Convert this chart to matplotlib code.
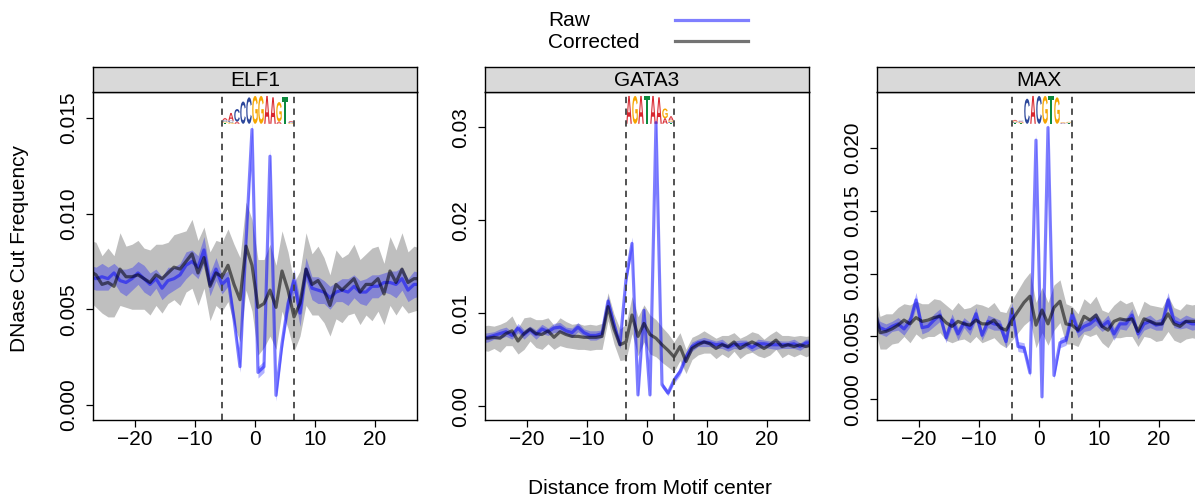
import numpy as np
import matplotlib.pyplot as plt
from matplotlib.textpath import TextPath
from matplotlib.font_manager import FontProperties
from matplotlib.patches import PathPatch
from matplotlib.transforms import Affine2D, blended_transform_factory
from matplotlib.lines import Line2D

plt.rcParams['font.family'] = ['Liberation Sans', 'DejaVu Sans']

# positions around the motif center
positions = np.arange(-27.5, 28.0, 1.0)

elf1_raw = [0.0067, 0.0066, 0.0067, 0.0066, 0.0069, 0.0065, 0.0064, 0.0066, 0.0069, 0.0066,
            0.0063, 0.0066, 0.0061, 0.0065, 0.0066, 0.0068, 0.0073, 0.0075, 0.0072, 0.0081,
            0.0063, 0.0071, 0.0063, 0.0066, 0.0045, 0.0020, 0.0085, 0.0144,
            0.0017, 0.0020, 0.0130, 0.0005, 0.0032, 0.0053, 0.0065, 0.0048, 0.0071, 0.0061,
            0.0060, 0.0059, 0.0056, 0.0059, 0.0060, 0.0059, 0.0062, 0.0059, 0.0059, 0.0062,
            0.0062, 0.0064, 0.0064, 0.0063, 0.0066, 0.0060, 0.0063, 0.0063]
elf1_raw_sd = [0.0006, 0.0006, 0.0007, 0.0006, 0.0005, 0.0006, 0.0007, 0.0006, 0.0006, 0.0007,
               0.0006, 0.0005, 0.0006, 0.0007, 0.0006, 0.0006, 0.0007, 0.0006, 0.0006, 0.0007,
               0.0006, 0.0006, 0.0005, 0.0004, 0.0003, 0.0003, 0.0003, 0.0004,
               0.0003, 0.0003, 0.0004, 0.0003, 0.0004, 0.0005, 0.0006, 0.0007, 0.0006, 0.0006,
               0.0007, 0.0006, 0.0006, 0.0005, 0.0006, 0.0007, 0.0006, 0.0006, 0.0007, 0.0006,
               0.0006, 0.0005, 0.0006, 0.0007, 0.0006, 0.0006, 0.0007, 0.0006]
elf1_cor = [0.0070, 0.0068, 0.0063, 0.0064, 0.0062, 0.0071, 0.0067, 0.0067, 0.0068, 0.0066,
            0.0064, 0.0068, 0.0066, 0.0069, 0.0072, 0.0071, 0.0075, 0.0079, 0.0069, 0.0077,
            0.0062, 0.0069, 0.0067, 0.0073, 0.0063, 0.0055, 0.0083, 0.0073,
            0.0051, 0.0053, 0.0060, 0.0051, 0.0070, 0.0060, 0.0046, 0.0053, 0.0071, 0.0063,
            0.0065, 0.0060, 0.0052, 0.0063, 0.0060, 0.0063, 0.0066, 0.0059, 0.0063, 0.0063,
            0.0066, 0.0058, 0.0070, 0.0064, 0.0071, 0.0064, 0.0066, 0.0066]
elf1_cor_sd = [0.0016, 0.0017, 0.0015, 0.0018, 0.0016, 0.0019, 0.0016, 0.0017, 0.0018, 0.0016,
               0.0017, 0.0016, 0.0018, 0.0016, 0.0017, 0.0019, 0.0016, 0.0018, 0.0017, 0.0016,
               0.0018, 0.0017, 0.0018, 0.0019, 0.0021, 0.0022, 0.0023, 0.0024,
               0.0025, 0.0023, 0.0024, 0.0022, 0.0021, 0.0020, 0.0018, 0.0017, 0.0019, 0.0016,
               0.0018, 0.0017, 0.0016, 0.0018, 0.0017, 0.0016, 0.0018, 0.0017, 0.0016, 0.0019,
               0.0017, 0.0016, 0.0018, 0.0017, 0.0019, 0.0016, 0.0017, 0.0016]

gata3_raw = [0.0073, 0.0074, 0.0076, 0.0078, 0.0080, 0.0076, 0.0084, 0.0077, 0.0082, 0.0077,
             0.0083, 0.0080, 0.0084, 0.0085, 0.0081, 0.0079, 0.0085, 0.0079, 0.0076, 0.0076,
             0.0078, 0.0113, 0.0088, 0.0066, 0.0136, 0.0175, 0.0012, 0.0103,
             0.0012, 0.0305, 0.0023, 0.0014, 0.0028, 0.0037, 0.0053, 0.0064, 0.0068, 0.0069,
             0.0068, 0.0066, 0.0067, 0.0063, 0.0066, 0.0066, 0.0067, 0.0063, 0.0067, 0.0067,
             0.0066, 0.0066, 0.0066, 0.0066, 0.0067, 0.0064, 0.0068, 0.0068]
gata3_raw_sd = [0.0005, 0.0005, 0.0004, 0.0005, 0.0005, 0.0004, 0.0005, 0.0005, 0.0004, 0.0005,
                0.0005, 0.0004, 0.0005, 0.0005, 0.0004, 0.0005, 0.0005, 0.0004, 0.0005, 0.0005,
                0.0004, 0.0006, 0.0005, 0.0004, 0.0006, 0.0007, 0.0003, 0.0005,
                0.0003, 0.0008, 0.0003, 0.0003, 0.0004, 0.0004, 0.0005, 0.0005, 0.0004, 0.0005,
                0.0004, 0.0004, 0.0005, 0.0004, 0.0004, 0.0005, 0.0004, 0.0004, 0.0005, 0.0004,
                0.0004, 0.0005, 0.0004, 0.0004, 0.0005, 0.0004, 0.0004, 0.0004]
gata3_cor = [0.0073, 0.0073, 0.0074, 0.0073, 0.0078, 0.0081, 0.0070, 0.0078, 0.0083, 0.0078,
             0.0077, 0.0081, 0.0074, 0.0080, 0.0077, 0.0075, 0.0075, 0.0074, 0.0074, 0.0074,
             0.0075, 0.0107, 0.0083, 0.0066, 0.0069, 0.0098, 0.0075, 0.0089,
             0.0077, 0.0073, 0.0066, 0.0060, 0.0053, 0.0064, 0.0048, 0.0062, 0.0066, 0.0069,
             0.0067, 0.0062, 0.0066, 0.0064, 0.0069, 0.0062, 0.0066, 0.0069, 0.0066, 0.0062,
             0.0066, 0.0071, 0.0064, 0.0066, 0.0064, 0.0066, 0.0064, 0.0066]
gata3_cor_sd = [0.0013, 0.0014, 0.0012, 0.0015, 0.0013, 0.0016, 0.0014, 0.0017, 0.0013, 0.0015,
                0.0016, 0.0014, 0.0013, 0.0015, 0.0014, 0.0013, 0.0014, 0.0013, 0.0014, 0.0013,
                0.0014, 0.0015, 0.0016, 0.0017, 0.0019, 0.0020, 0.0021, 0.0020,
                0.0021, 0.0020, 0.0019, 0.0018, 0.0016, 0.0015, 0.0013, 0.0012, 0.0011, 0.0012,
                0.0010, 0.0011, 0.0010, 0.0012, 0.0010, 0.0011, 0.0010, 0.0011, 0.0012, 0.0010,
                0.0011, 0.0010, 0.0012, 0.0010, 0.0011, 0.0010, 0.0011, 0.0010]

max_raw = [0.0066, 0.0057, 0.0055, 0.0058, 0.0060, 0.0056, 0.0062, 0.0079, 0.0057, 0.0058,
           0.0063, 0.0067, 0.0049, 0.0063, 0.0052, 0.0061, 0.0056, 0.0068, 0.0051, 0.0062,
           0.0060, 0.0059, 0.0046, 0.0072, 0.0042, 0.0041, 0.0021, 0.0206,
           0.0002, 0.0216, 0.0019, 0.0045, 0.0047, 0.0068, 0.0054, 0.0058, 0.0060, 0.0064,
           0.0058, 0.0062, 0.0052, 0.0060, 0.0060, 0.0067, 0.0052, 0.0060, 0.0062, 0.0059,
           0.0060, 0.0079, 0.0062, 0.0060, 0.0062, 0.0060, 0.0060, 0.0060]
max_raw_sd = [0.0006, 0.0005, 0.0005, 0.0004, 0.0005, 0.0005, 0.0004, 0.0006, 0.0005, 0.0004,
              0.0005, 0.0005, 0.0004, 0.0005, 0.0005, 0.0004, 0.0005, 0.0005, 0.0004, 0.0005,
              0.0005, 0.0004, 0.0005, 0.0005, 0.0004, 0.0004, 0.0003, 0.0005,
              0.0003, 0.0005, 0.0003, 0.0004, 0.0004, 0.0005, 0.0005, 0.0004, 0.0005, 0.0005,
              0.0004, 0.0005, 0.0005, 0.0004, 0.0005, 0.0005, 0.0004, 0.0005, 0.0005, 0.0004,
              0.0005, 0.0006, 0.0005, 0.0004, 0.0005, 0.0005, 0.0004, 0.0005]
max_cor = [0.0074, 0.0053, 0.0054, 0.0056, 0.0059, 0.0063, 0.0060, 0.0065, 0.0062, 0.0063,
           0.0065, 0.0066, 0.0061, 0.0058, 0.0062, 0.0060, 0.0059, 0.0063, 0.0060, 0.0060,
           0.0063, 0.0057, 0.0055, 0.0063, 0.0070, 0.0077, 0.0082, 0.0059,
           0.0071, 0.0060, 0.0073, 0.0078, 0.0060, 0.0059, 0.0055, 0.0066, 0.0063, 0.0067,
           0.0058, 0.0055, 0.0062, 0.0064, 0.0063, 0.0064, 0.0054, 0.0064, 0.0062, 0.0060,
           0.0060, 0.0068, 0.0060, 0.0058, 0.0062, 0.0062, 0.0062, 0.0062]
max_cor_sd = [0.0014, 0.0013, 0.0014, 0.0012, 0.0014, 0.0013, 0.0015, 0.0013, 0.0014, 0.0013,
              0.0015, 0.0013, 0.0014, 0.0013, 0.0015, 0.0012, 0.0014, 0.0013, 0.0015, 0.0013,
              0.0014, 0.0013, 0.0014, 0.0016, 0.0017, 0.0018, 0.0019, 0.0018,
              0.0018, 0.0017, 0.0018, 0.0017, 0.0016, 0.0015, 0.0013, 0.0014, 0.0013, 0.0015,
              0.0013, 0.0014, 0.0013, 0.0015, 0.0013, 0.0014, 0.0012, 0.0014, 0.0013, 0.0014,
              0.0013, 0.0014, 0.0013, 0.0013, 0.0014, 0.0013, 0.0014, 0.0013]

# motif logos: one list per column, (letter, share of full height), stacked bottom up
elf1_logo = [[("T", 0.04), ("G", 0.04), ("C", 0.05), ("A", 0.08)],
             [("G", 0.05), ("C", 0.06), ("A", 0.28)],
             [("A", 0.08), ("C", 0.45)],
             [("C", 0.80)],
             [("C", 0.95)],
             [("G", 1.0)],
             [("G", 1.0)],
             [("A", 1.0)],
             [("A", 0.95)],
             [("A", 0.08), ("G", 0.70)],
             [("T", 0.95)],
             [("G", 0.03), ("C", 0.03), ("A", 0.04)]]
gata3_logo = [[("A", 1.0)],
              [("G", 1.0)],
              [("A", 1.0)],
              [("T", 1.0)],
              [("A", 1.0)],
              [("A", 0.95)],
              [("A", 0.20), ("G", 0.35)],
              [("T", 0.03), ("C", 0.04), ("G", 0.05), ("A", 0.15)]]
max_logo = [[("T", 0.03), ("C", 0.03), ("G", 0.03), ("A", 0.05)],
            [("T", 0.02), ("G", 0.03), ("A", 0.03), ("C", 0.03)],
            [("C", 0.90)],
            [("A", 1.0)],
            [("C", 1.0)],
            [("G", 1.0)],
            [("T", 1.0)],
            [("G", 0.95)],
            [("C", 0.02), ("A", 0.02), ("G", 0.02)],
            [("T", 0.02), ("C", 0.02), ("G", 0.03)]]

# motif borders (dashed lines)
elf1_motif = [-5.5, 6.5]
gata3_motif = [-3.5, 4.5]
max_motif = [-4.5, 5.5]

letter_colors = {"A": "#d8262e", "C": "#2c479b", "G": "#f6a500", "T": "#0d8a3e"}
letter_font = FontProperties(family="Liberation Sans", weight="bold")


def draw_logo(ax, logo, start):
    trans = blended_transform_factory(ax.transData, ax.transAxes)
    base = 0.903
    full = 0.085
    for i, column in enumerate(logo):
        y0 = base
        for letter, h in sorted(column, key=lambda t: t[1]):
            tp = TextPath((0, 0), letter, size=1, prop=letter_font)
            bb = tp.get_extents()
            t = Affine2D().translate(-bb.x0, -bb.y0).scale(0.92 / bb.width, h * full / bb.height)
            t = t.translate(start + i + 0.04, y0)
            ax.add_patch(PathPatch(t.transform_path(tp), transform=trans,
                                   facecolor=letter_colors[letter], lw=0))
            y0 += h * full


def draw_panel(left, name, raw, raw_sd, cor, cor_sd, motif, logo, yticks, ylabels, ylim):
    width = 324 / 1195
    ax = fig.add_axes([left, 0.16, width, 0.656])
    raw = np.array(raw)
    cor = np.array(cor)
    raw_sd = np.array(raw_sd)
    cor_sd = np.array(cor_sd)
    ax.fill_between(positions, cor - cor_sd, cor + cor_sd, color="gray", alpha=0.5, lw=0)
    ax.fill_between(positions, raw - raw_sd, raw + raw_sd, color="blue", alpha=0.3, lw=0)
    ax.plot(positions, raw, color="blue", alpha=0.5, lw=2.3)
    ax.plot(positions, cor, color="black", alpha=0.55, lw=2.3)
    for m in motif:
        ax.axvline(m, color="#444444", ls=(0, (3.5, 3)), lw=1.3)
    draw_logo(ax, logo, motif[0])
    ax.set_xlim(-27, 27)
    ax.set_ylim(ylim)
    ax.set_xticks([-20, -10, 0, 10, 20])
    ax.set_yticks(yticks)
    ax.set_yticklabels(ylabels, rotation=90, va="center")
    ax.tick_params(direction="out", length=5, width=0.9, labelsize=15)
    ax.tick_params(axis="x", pad=2)
    ax.tick_params(axis="y", pad=6)
    for s in ax.spines.values():
        s.set_linewidth(1.0)

    strip = fig.add_axes([left, 0.816, width, 0.05])
    strip.set_facecolor("#d9d9d9")
    strip.set_xticks([])
    strip.set_yticks([])
    for s in strip.spines.values():
        s.set_linewidth(1.0)
    strip.text(0.5, 0.47, name, ha="center", va="center", fontsize=15, transform=strip.transAxes)
    return ax


fig = plt.figure(figsize=(11.95, 5.0), dpi=100)

draw_panel(93 / 1195, "ELF1", elf1_raw, elf1_raw_sd, elf1_cor, elf1_cor_sd, elf1_motif, elf1_logo,
           [0, 0.005, 0.010, 0.015], ["0.000", "0.005", "0.010", "0.015"], (-0.00079, 0.01636))
draw_panel(485 / 1195, "GATA3", gata3_raw, gata3_raw_sd, gata3_cor, gata3_cor_sd, gata3_motif, gata3_logo,
           [0, 0.01, 0.02, 0.03], ["0.00", "0.01", "0.02", "0.03"], (-0.0015, 0.0338))
draw_panel(877 / 1195, "MAX", max_raw, max_raw_sd, max_cor, max_cor_sd, max_motif, max_logo,
           [0, 0.005, 0.010, 0.015, 0.020], ["0.000", "0.005", "0.010", "0.015", "0.020"],
           (-0.00164, 0.02443))

# legend at the top
fig.text(548 / 1195, 1 - 20 / 500, "Raw", fontsize=15, va="center")
fig.text(548 / 1195, 1 - 42 / 500, "Corrected", fontsize=15, va="center")
fig.add_artist(Line2D([675 / 1195, 748 / 1195], [1 - 20 / 500] * 2, color="blue", alpha=0.5, lw=2.3))
fig.add_artist(Line2D([675 / 1195, 748 / 1195], [1 - 41 / 500] * 2, color="black", alpha=0.55, lw=2.3))

fig.text(20 / 1195, 1 - 248 / 500, "DNase Cut Frequency", fontsize=15, rotation=90, ha="center", va="center")
fig.text(650 / 1195, 1 - 488 / 500, "Distance from Motif center", fontsize=15, ha="center", va="center")

fig.savefig("out.png", dpi=100, facecolor="white")
